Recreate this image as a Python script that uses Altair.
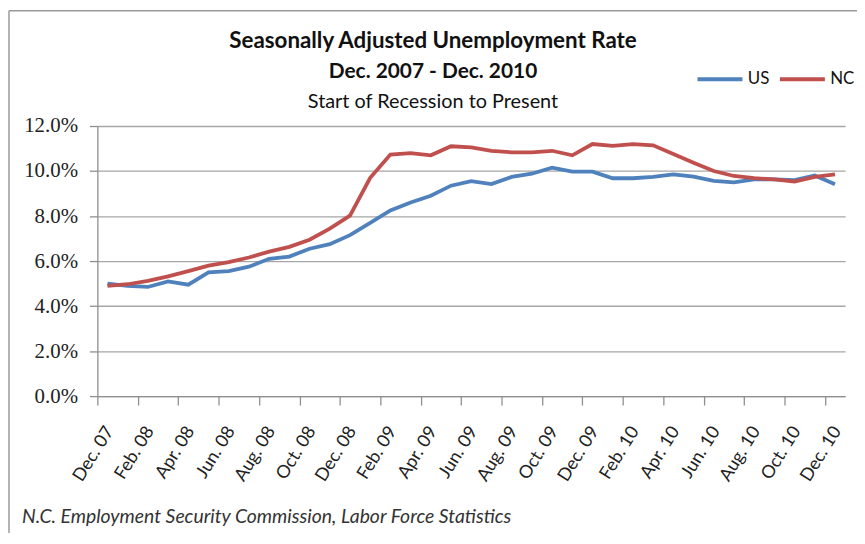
import altair as alt
import pandas as pd

months = ["Dec. 07", "Jan. 08", "Feb. 08", "Mar. 08", "Apr. 08", "May 08", "Jun. 08", "Jul. 08",
          "Aug. 08", "Sep. 08", "Oct. 08", "Nov. 08", "Dec. 08", "Jan. 09", "Feb. 09", "Mar. 09",
          "Apr. 09", "May 09", "Jun. 09", "Jul. 09", "Aug. 09", "Sep. 09", "Oct. 09", "Nov. 09",
          "Dec. 09", "Jan. 10", "Feb. 10", "Mar. 10", "Apr. 10", "May 10", "Jun. 10", "Jul. 10",
          "Aug. 10", "Sep. 10", "Oct. 10", "Nov. 10", "Dec. 10"]
us = [5.0, 4.9, 4.85, 5.1, 4.95, 5.5, 5.55, 5.75, 6.1, 6.2, 6.55, 6.75, 7.15, 7.7, 8.25,
      8.6, 8.9, 9.35, 9.55, 9.42, 9.74, 9.88, 10.15, 9.97, 9.97, 9.68, 9.68, 9.74, 9.85,
      9.75, 9.56, 9.5, 9.63, 9.63, 9.6, 9.8, 9.41]
nc = [4.9, 4.97, 5.12, 5.32, 5.55, 5.8, 5.95, 6.16, 6.42, 6.63, 6.95, 7.44, 8.02, 9.7, 10.73,
      10.8, 10.7, 11.1, 11.05, 10.9, 10.83, 10.83, 10.9, 10.7, 11.2, 11.12, 11.2, 11.14, 10.76,
      10.37, 10.0, 9.78, 9.68, 9.63, 9.53, 9.74, 9.85]
series = ["US", "NC"]
colors = ["#4F81BD", "#C0504D"]
y_ticks = [0, 2, 4, 6, 8, 10, 12]
title_lines = ["Seasonally Adjusted Unemployment Rate", "Dec. 2007 - Dec. 2010"]
subtitle = "Start of Recession to Present"
source = "N.C. Employment Security Commission, Labor Force Statistics"

rows = []
for name, vals in zip(series, [us, nc]):
    for i, v in enumerate(vals):
        rows.append({"idx": i, "month": months[i], "series": name, "value": v})
df = pd.DataFrame(rows)

W = 753
H = 272
band = W / len(months)
label_expr = "[" + ",".join("'" + m + "'" for m in months) + "][datum.value]"
GRAY = "#8f8f8f"
FONT = "Lato"

lines = alt.Chart(df).mark_line(strokeWidth=3.8).encode(
    x=alt.X("idx:Q",
            scale=alt.Scale(domain=[-0.5, len(months) - 0.5], nice=False, zero=False),
            axis=alt.Axis(values=list(range(0, len(months), 2)), labelExpr=label_expr,
                          labelAngle=-58, labelAlign="right", labelBaseline="middle",
                          labelOverlap=False,
                          tickOffset=-band / 2, labelOffset=band / 2 + 2, tickSize=9,
                          labelPadding=23, grid=False, title=None, labelFont=FONT,
                          labelFontSize=18, labelColor="#222", domainColor=GRAY,
                          tickColor=GRAY, domainWidth=1.3, tickWidth=1.3)),
    y=alt.Y("value:Q",
            scale=alt.Scale(domain=[0, 12], nice=False),
            axis=alt.Axis(values=y_ticks, labelExpr="format(datum.value,'.1f')+'%'",
                          grid=True, gridColor="#a6a6a6", gridWidth=1.3, tickSize=8,
                          labelPadding=12, title=None, labelFont="Liberation Serif",
                          labelFontSize=21, labelColor="#222", domainColor=GRAY,
                          tickColor=GRAY, domainWidth=1.3, tickWidth=1.3)),
    color=alt.Color("series:N", sort=series,
                    scale=alt.Scale(domain=series, range=colors),
                    legend=alt.Legend(orient="none", legendX=602, legendY=-72,
                                      direction="horizontal", title=None,
                                      symbolType="stroke", symbolStrokeWidth=4,
                                      symbolSize=2050, labelFontSize=17, labelFont=FONT,
                                      labelColor="#111", columnPadding=2, labelOffset=3)),
)

deco = pd.DataFrame({"a": [0]})
border_top = alt.Chart(deco).mark_rule(color="#9a9a9a", strokeWidth=1.5).encode(
    x=alt.value(-89), x2=alt.value(W + 20), y=alt.value(-116))
border_left = alt.Chart(deco).mark_rule(color="#9a9a9a", strokeWidth=1.5).encode(
    x=alt.value(-89), y=alt.value(-116), y2=alt.value(H + 150))

tdf = pd.DataFrame({"t": title_lines + [subtitle], "row": [0, 1, 2]})
title1 = alt.Chart(tdf[tdf.row == 0]).mark_text(
    font=FONT, fontSize=22.5, fontWeight="bold", color="#111", baseline="middle").encode(
    x=alt.value(338), y=alt.value(-86), text="t:N")
title2 = alt.Chart(tdf[tdf.row == 1]).mark_text(
    font=FONT, fontSize=21, fontWeight="bold", color="#111", baseline="middle").encode(
    x=alt.value(338), y=alt.value(-54), text="t:N")
title3 = alt.Chart(tdf[tdf.row == 2]).mark_text(
    font=FONT, fontSize=20, color="#111", baseline="middle").encode(
    x=alt.value(338), y=alt.value(-24), text="t:N")

footer = alt.Chart(pd.DataFrame({"t": [source]})).mark_text(
    align="left", baseline="alphabetic", font=FONT, fontStyle="italic",
    fontSize=19.5, color="#333").encode(
    x=alt.value(-76), y=alt.value(400), text="t:N")

chart = alt.layer(border_top, border_left, title1, title2, title3, lines, footer).properties(
    width=W, height=H,
    autosize=alt.AutoSizeParams(type="none"),
    padding={"left": 90, "top": 117, "right": 12, "bottom": 136},
    background="white",
).configure_view(stroke=None)

chart.save("out.html", embed_options={"renderer": "svg", "actions": False})
